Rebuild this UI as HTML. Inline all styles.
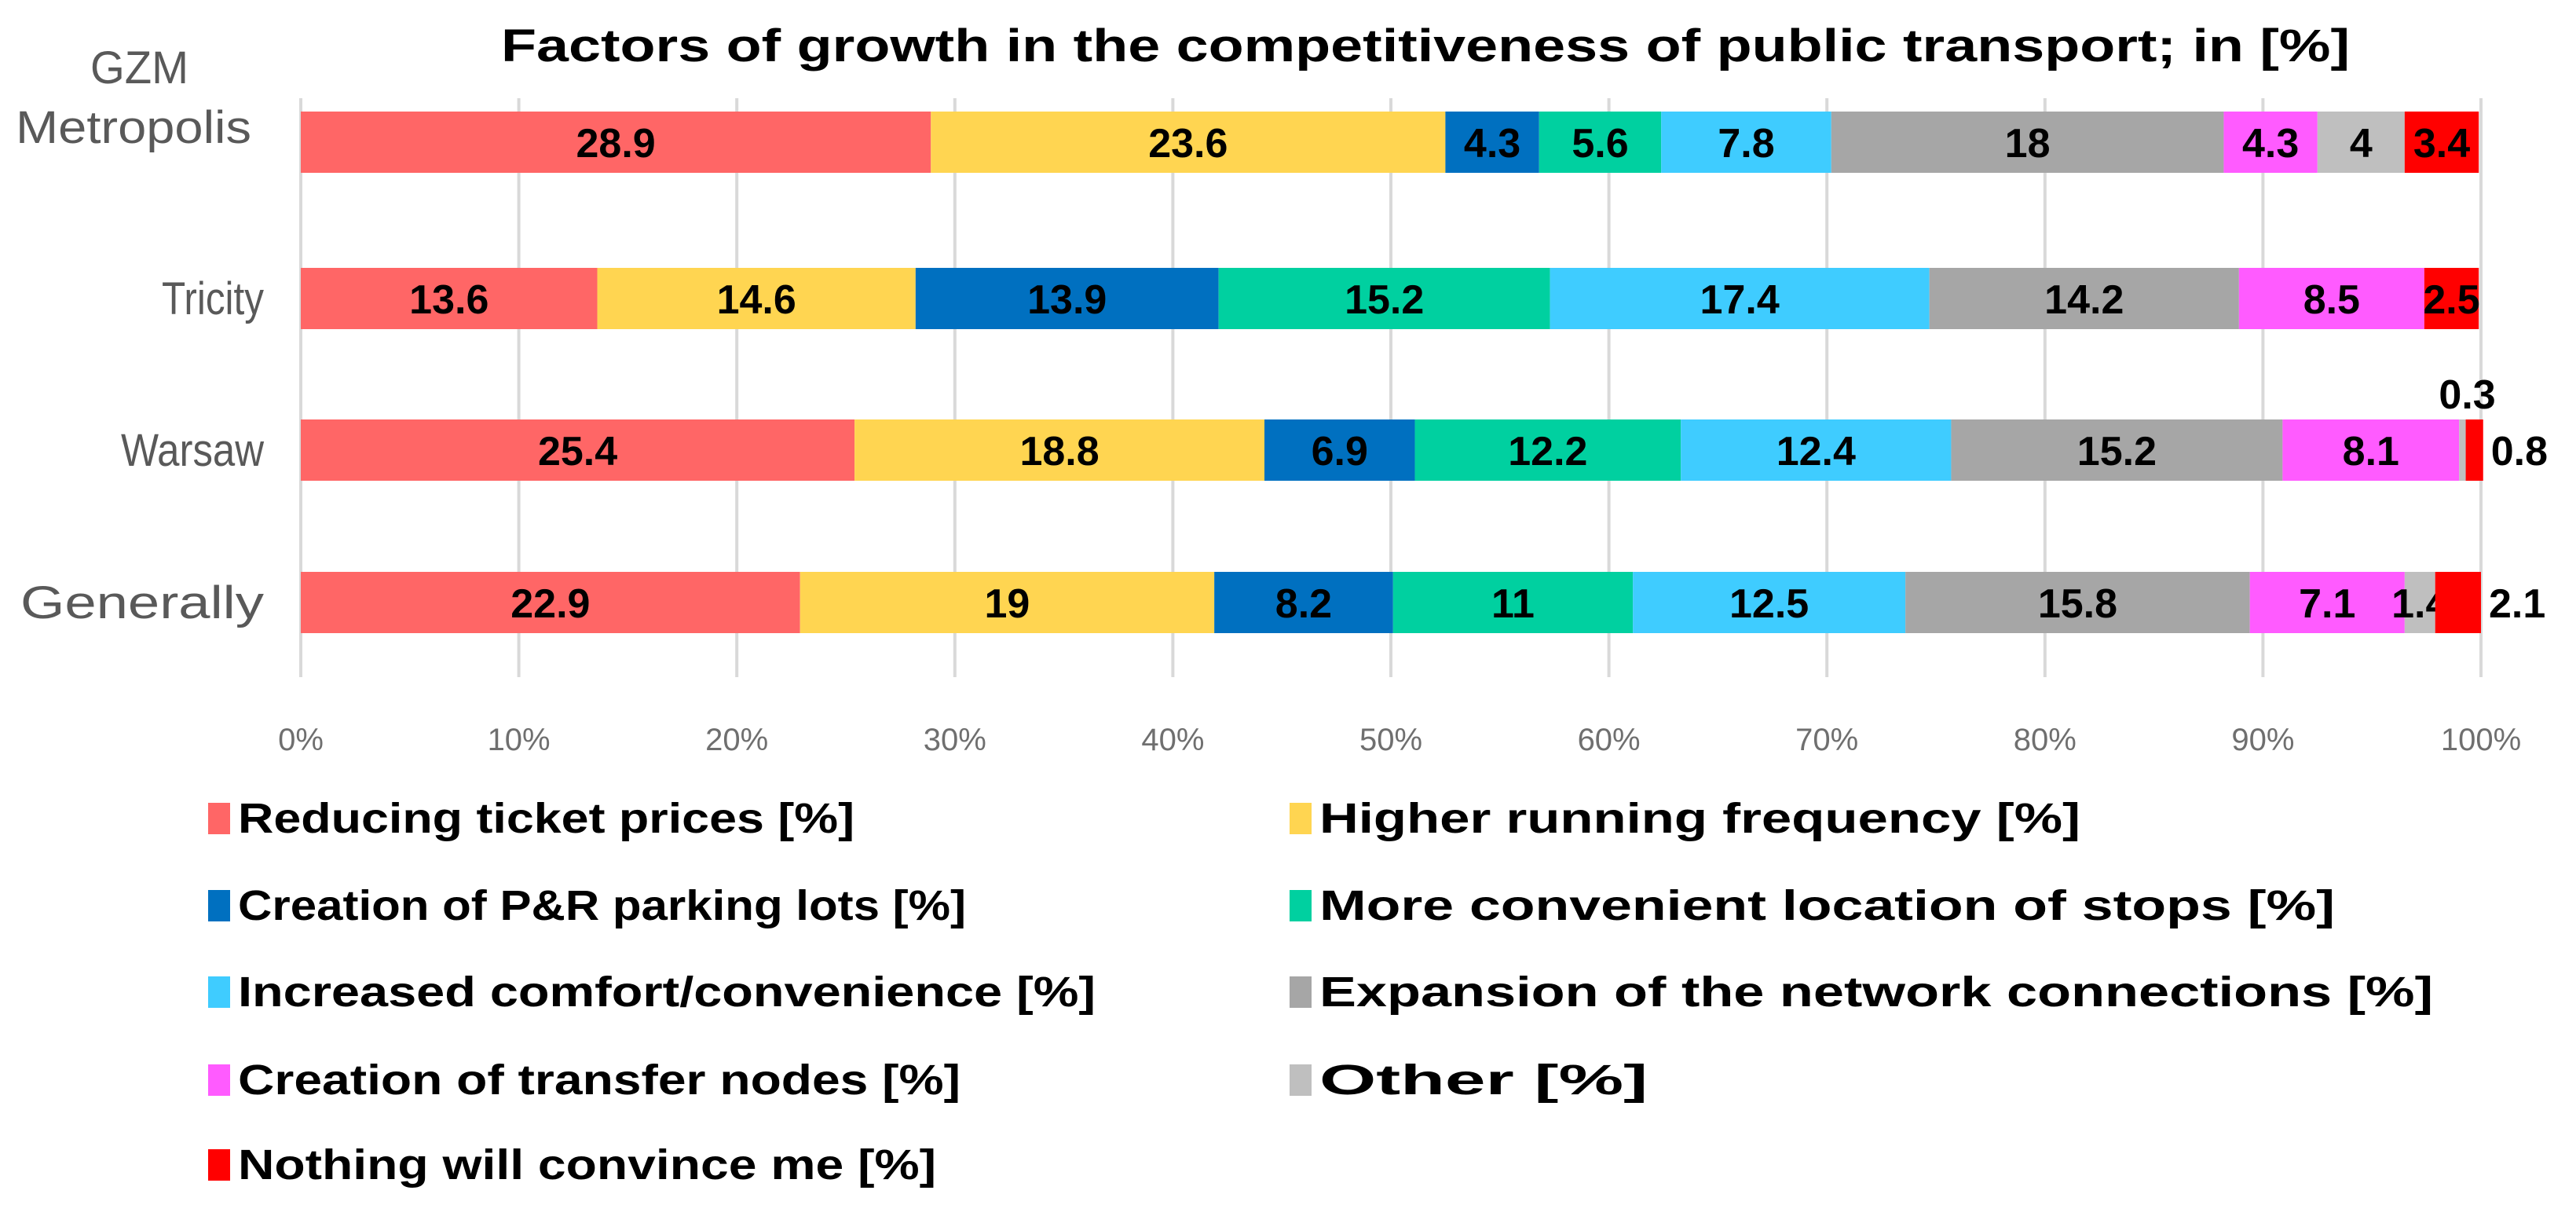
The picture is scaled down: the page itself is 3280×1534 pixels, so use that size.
<!DOCTYPE html>
<html><head><meta charset="utf-8">
<style>
html,body{margin:0;padding:0;background:#fff;}
svg{display:block;font-family:"Liberation Sans",sans-serif;}
</style></head>
<body>
<svg id="chart" width="3280" height="1534" viewBox="0 0 3280 1534" xmlns="http://www.w3.org/2000/svg">
<text x="638" y="78" font-size="58" font-weight="bold" fill="#000" textLength="2354" lengthAdjust="spacingAndGlyphs">Factors of growth in the competitiveness of public transport; in [%]</text>
<g id="grid"></g>
<g id="bars"></g>
<g id="cats"></g>
<g id="ticks"></g>
<g id="legend"></g>
</svg>
<script>
const categories = ["GZM Metropolis", "Tricity", "Warsaw", "Generally"];
const seriesNames = ["Reducing ticket prices [%]","Higher running frequency [%]","Creation of P&R parking lots [%]","More convenient location of stops [%]","Increased comfort/convenience [%]","Expansion of the network connections [%]","Creation of transfer nodes [%]","Other [%]","Nothing will convince me [%]"];
const gzmValues = [28.9, 23.6, 4.3, 5.6, 7.8, 18, 4.3, 4, 3.4];
const tricityValues = [13.6, 14.6, 13.9, 15.2, 17.4, 14.2, 8.5, 0, 2.5];
const warsawValues = [25.4, 18.8, 6.9, 12.2, 12.4, 15.2, 8.1, 0.3, 0.8];
const generallyValues = [22.9, 19, 8.2, 11, 12.5, 15.8, 7.1, 1.4, 2.1];
const tickValues = [0, 10, 20, 30, 40, 50, 60, 70, 80, 90, 100];

const NS = "http://www.w3.org/2000/svg";
const colors = ["#FF6666","#FFD551","#0070C0","#00D0A0","#3FCCFF","#A6A6A6","#FF5BFF","#BFBFBF","#FF0000"];
const legendWidths = [785,969,927,1293,1092,1418,920,418,889];
const catWidths = {"GZM":125,"Metropolis":300,"Tricity":130,"Warsaw":182,"Generally":310};
const rows = [gzmValues, tricityValues, warsawValues, generallyValues];
const X0 = 383, X1 = 3159;
function xScale(p){ return X0 + (X1 - X0) * p / 100; }
const barTops = [142, 341, 534, 728], BAR_H = 78;
function mk(tag, attrs, parent){ const e = document.createElementNS(NS, tag); for (const k in attrs) e.setAttribute(k, attrs[k]); parent.appendChild(e); return e; }

const grid = document.getElementById('grid');
tickValues.forEach(t => {
  const l = mk('line', {x1: xScale(t), x2: xScale(t), y1: 125, y2: 862, stroke: '#D9D9D9', 'stroke-width': 4}, grid);
  
  
});
const ticks = document.getElementById('ticks');
tickValues.forEach(t => {
  const tx = mk('text', {x: xScale(t), y: 955, 'font-size': 40, fill: '#6F6F6F', 'text-anchor': 'middle'}, ticks);
  tx.textContent = t + '%';
  
  
});

const bars = document.getElementById('bars');
rows.forEach((vals, r) => {
  let cum = 0;
  const y = barTops[r];
  vals.forEach((v, s) => {
    const xa = xScale(cum), xb = xScale(cum + v);
    cum += v;
    if (v <= 0) return;
    const rect = mk('rect', {x: xa, y: y, width: xb - xa, height: BAR_H, fill: colors[s]}, bars);
    
    
    let lx = (xa + xb) / 2, ly = y + BAR_H / 2 + 19, anchor = 'middle';
    if (r === 2 && s === 7) { lx = xb + 2; ly = y - 14; }
    else if ((r === 2 && s === 8) || (r === 3 && s === 8)) { lx = xb + 10; anchor = 'start'; }
    const t = mk('text', {x: lx, y: ly, 'font-size': 52, 'font-weight': 'bold', fill: '#000', 'text-anchor': anchor}, bars);
    t.textContent = String(v);
    
    
  });
});

const cats = document.getElementById('cats');
function catText(txt, xr, y){
  const w = catWidths[txt];
  const t = mk('text', {x: xr - w, y: y, 'font-size': 58, fill: '#595959', textLength: w, lengthAdjust: 'spacingAndGlyphs'}, cats);
  t.textContent = txt;
  
  
}
categories.forEach((c, i) => {
  const cy = barTops[i] + BAR_H / 2 + 20;
  if (c === 'GZM Metropolis') {
    catText('GZM', 240, 106);
    catText('Metropolis', 320, 182);
  } else {
    catText(c, 336, cy);
  }
});

const legend = document.getElementById('legend');
const legRowY = [1042, 1153, 1263, 1375, 1483];
seriesNames.forEach((n, i) => {
  const col = i % 2, row = Math.floor(i / 2);
  const sx = col === 0 ? 265 : 1642;
  const g = mk('g', {}, legend);
  
  
  const sw = mk('rect', {x: sx, y: legRowY[row] - 20, width: 28, height: 40, fill: colors[i]}, g);
  
  
  const t = mk('text', {x: sx + 38, y: legRowY[row] + 18, 'font-size': 54, 'font-weight': 'bold', fill: '#000', textLength: legendWidths[i], lengthAdjust: 'spacingAndGlyphs'}, g);
  t.textContent = n;
  
  
});
</script>
</body></html>
